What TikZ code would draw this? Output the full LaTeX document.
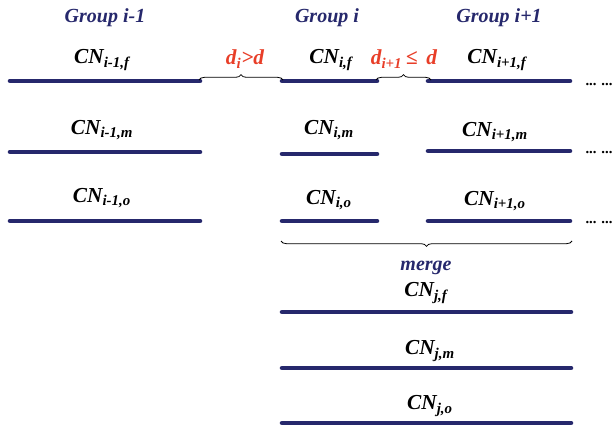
\documentclass[tikz,border=0pt]{standalone}
\usepackage{fontspec}
\setmainfont{Liberation Serif}
\usetikzlibrary{decorations.pathreplacing}
\definecolor{navy}{RGB}{38,40,108}
\definecolor{gapred}{RGB}{232,62,40}
\newcommand{\cnlabel}[1]{CN\textsubscript{#1}}
\tikzset{
  seg/.style={line width=3.4pt, draw=navy, line cap=round},
  lbl/.style={font=\fontsize{16}{19}\selectfont\bfseries\itshape, inner sep=0pt},
  grp/.style={font=\fontsize{15}{18}\selectfont\bfseries\itshape, inner sep=0pt, text=navy},
  gaplbl/.style={lbl, text=gapred},
  brc/.style={decorate, decoration={brace, amplitude=4pt}, line width=0.6pt},
  dotlbl/.style={font=\fontsize{11}{12}\selectfont\bfseries, inner sep=0pt, anchor=base},
}
\begin{document}
\begin{tikzpicture}[x=0.75pt, y=-0.75pt]
  \useasboundingbox (0,0) rectangle (616,425);

  % group headings
  \node[grp] (g1) at (105,18) {Group i-1};
  \node[grp] (g2) at (327,18) {Group i};
  \node[grp] (g3) at (499,18) {Group i+1};

  % row f
  \draw[seg] (10,81) -- (200,81);
  \draw[seg] (282,81) -- (377,81);
  \draw[seg] (428,81) -- (570,81);
  \node[lbl] (cn1f) at (102,60) {\cnlabel{i-1,f}};
  \node[lbl] (cn2f) at (331,60) {\cnlabel{i,f}};
  \node[lbl] (cn3f) at (497,60) {\cnlabel{i+1,f}};
  \node[dotlbl] (dotf) at (599,85) {... ...};

  % gaps between groups
  \draw[brc] (199,80) -- (283,80);
  \draw[brc] (376,80) -- (431,80);
  \node[gaplbl] (gap1) at (245,59) {d\textsubscript{i}>d};
  \node[gaplbl] (gap2) at (404,59) {d\textsubscript{i+1}\,≤\, d};

  % row m
  \draw[seg] (10,152) -- (200,152);
  \draw[seg] (282,154) -- (377,154);
  \draw[seg] (428,151) -- (570,151);
  \node[lbl] (cn1m) at (102,130) {\cnlabel{i-1,m}};
  \node[lbl] (cn2m) at (329,130) {\cnlabel{i,m}};
  \node[lbl] (cn3m) at (495,132) {\cnlabel{i+1,m}};
  \node[dotlbl] (dotm) at (599,153) {... ...};

  % row o
  \draw[seg] (10,221) -- (200,221);
  \draw[seg] (282,221) -- (377,221);
  \draw[seg] (428,221) -- (570,221);
  \node[lbl] (cn1o) at (102,198) {\cnlabel{i-1,o}};
  \node[lbl] (cn2o) at (329,200) {\cnlabel{i,o}};
  \node[lbl] (cn3o) at (495,201) {\cnlabel{i+1,o}};
  \node[dotlbl] (doto) at (599,223) {... ...};

  % merged group
  \draw[brc] (572,241) -- (281,241);
  \node[grp] (mrg) at (426,268) {merge};
  \node[lbl] (cnjf) at (426,293) {\cnlabel{j,f}};
  \draw[seg] (282,312) -- (571,312);
  \node[lbl] (cnjm) at (430,351) {\cnlabel{j,m}};
  \draw[seg] (282,368) -- (571,368);
  \node[lbl] (cnjo) at (430,406) {\cnlabel{j,o}};
  \draw[seg] (282,423) -- (571,423);
\end{tikzpicture}
\end{document}
